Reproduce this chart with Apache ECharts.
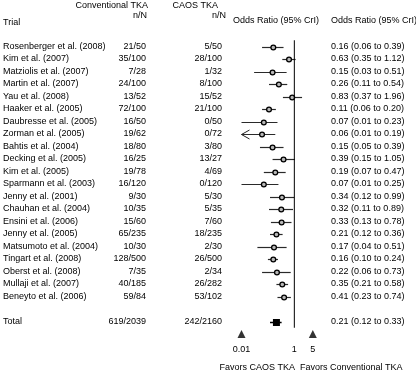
<!DOCTYPE html>
<html>
<head>
<meta charset="utf-8">
<script src="https://cdn.jsdelivr.net/npm/echarts@6/dist/echarts.min.js"></script>
<style>
  html, body { margin: 0; padding: 0; background: #fff; }
  #chart { width: 416px; height: 375px; }
</style>
</head>
<body>
<div id="chart"></div>
<script>
// trial rows, top to bottom
var trials = ['Rosenberger et al. (2008)', 'Kim et al. (2007)', 'Matziolis et al. (2007)', 'Martin et al. (2007)',
    'Yau et al. (2008)', 'Haaker et al. (2005)', 'Daubresse et al. (2005)', 'Zorman et al. (2005)',
    'Bahtis et al. (2004)', 'Decking et al. (2005)', 'Kim et al. (2005)', 'Sparmann et al. (2003)',
    'Jenny et al. (2001)', 'Chauhan et al. (2004)', 'Ensini et al. (2006)', 'Jenny et al. (2005)',
    'Matsumoto et al. (2004)', 'Tingart et al. (2008)', 'Oberst et al. (2008)', 'Mullaji et al. (2007)',
    'Beneyto et al. (2006)'];
var convN = ['21/50', '35/100', '7/28', '24/100', '13/52', '72/100', '16/50', '19/62', '18/80', '16/25', '19/78',
    '16/120', '9/30', '10/35', '15/60', '65/235', '10/30', '128/500', '7/35', '40/185', '59/84'];
var caosN = ['5/50', '28/100', '1/32', '8/100', '15/52', '21/100', '0/50', '0/72', '3/80', '13/27', '4/69',
    '0/120', '5/30', '5/35', '7/60', '18/235', '2/30', '26/500', '2/34', '26/282', '53/102'];
var oddsRatio = [0.16, 0.63, 0.15, 0.26, 0.83, 0.11, 0.07, 0.06, 0.15, 0.39, 0.19, 0.07, 0.34, 0.32, 0.33, 0.21, 0.17, 0.16, 0.22, 0.35, 0.41];
var lower = [0.06, 0.35, 0.03, 0.11, 0.37, 0.06, 0.01, 0.01, 0.05, 0.15, 0.07, 0.01, 0.12, 0.11, 0.13, 0.12, 0.04, 0.10, 0.06, 0.21, 0.23];
var upper = [0.39, 1.12, 0.51, 0.54, 1.96, 0.20, 0.23, 0.19, 0.39, 1.05, 0.47, 0.25, 0.99, 0.89, 0.78, 0.36, 0.51, 0.24, 0.73, 0.58, 0.74];
var arrowRows = [7];   // interval runs off the left edge

var total = { conv: '619/2039', caos: '242/2160', or: 0.21, lo: 0.12, hi: 0.33 };
var tickValues = [0.01, 1, 5];
var markerTicks = [0.01, 5];

var fmt = function (v) { return v.toFixed(2); };
var ciText = function (o, l, h) { return fmt(o) + ' (' + fmt(l) + ' to ' + fmt(h) + ')'; };

// row layout: studies, blank row, total, marker row
var nameCol = trials.concat(['', 'Total', '']);
var convCol = convN.concat(['', total.conv, '']);
var caosCol = caosN.concat(['', total.caos, '']);
var orCol = oddsRatio.map(function (o, i) { return ciText(o, lower[i], upper[i]); })
    .concat(['', ciText(total.or, total.lo, total.hi), '']);
var totalRow = trials.length + 1;
var markerRow = trials.length + 2;
var nRows = nameCol.length;

var studyData = oddsRatio.map(function (o, i) {
    return [o, lower[i], upper[i], i, arrowRows.indexOf(i) >= 0 ? 1 : 0];
});

var FONT = 'Liberation Sans, Arial, sans-serif';
var FS = 9;

var textAxis = function (data, pos, offset, align) {
    return {
        type: 'category', data: data, inverse: true, position: pos, offset: offset,
        axisLine: { show: false }, axisTick: { show: false }, splitLine: { show: false },
        axisLabel: { interval: 0, margin: 0, align: align, color: '#000', fontFamily: FONT, fontSize: FS }
    };
};
var label = function (pos, text) {
    var g = { type: 'text', style: { text: text, font: FS + 'px ' + FONT, fill: '#000' } };
    for (var k in pos) g[k] = pos[k];
    return g;
};

var chart = echarts.init(document.getElementById('chart'), null, { renderer: 'canvas' });
chart.setOption({
    animation: false,
    backgroundColor: '#fff',
    grid: { left: 241.5, right: 103.2, top: 40.25, height: 300, containLabel: false },
    xAxis: {
        type: 'log', logBase: 10, min: 0.01, max: 5,
        axisLine: { show: false }, axisTick: { show: false }, splitLine: { show: false },
        axisLabel: {
            customValues: tickValues, margin: 5, color: '#000', fontFamily: FONT, fontSize: FS,
            formatter: function (v) { return String(+v.toFixed(2)); }
        }
    },
    yAxis: [
        { type: 'value', inverse: true, min: -0.5, max: nRows - 0.5, show: false },
        textAxis(nameCol, 'left', 238.5, 'left'),
        textAxis(convCol, 'left', 95.5, 'right'),
        textAxis(caosCol, 'left', 19.5, 'right'),
        textAxis(orCol, 'right', 18.2, 'left')
    ],
    graphic: [
        label({ left: 3, top: 18 }, 'Trial'),
        label({ right: 268, top: 1 }, 'Conventional TKA'),
        label({ right: 269, top: 11 }, 'n/N'),
        label({ right: 198, top: 1 }, 'CAOS TKA'),
        label({ right: 190, top: 11 }, 'n/N'),
        label({ left: 233, top: 16 }, 'Odds Ratio (95% CrI)'),
        label({ left: 331, top: 16 }, 'Odds Ratio (95% CrI)'),
        label({ right: 121, top: 363 }, 'Favors CAOS TKA'),
        label({ left: 300, top: 363 }, 'Favors Conventional TKA')
    ],
    series: [
        {   // line of no effect
            type: 'line', yAxisIndex: 0, symbol: 'none', silent: true,
            lineStyle: { color: '#000', width: 1 },
            data: [[1, -0.5], [1, totalRow + 0.5]]
        },
        {   // study estimates with 95% CrI
            type: 'custom', yAxisIndex: 0, silent: true,
            encode: { x: [0, 1, 2], y: 3 },
            data: studyData,
            renderItem: function (params, api) {
                var p = api.coord([api.value(0), api.value(3)]);
                var a = api.coord([api.value(1), api.value(3)]);
                var b = api.coord([api.value(2), api.value(3)]);
                var y = Math.round(p[1]) + 0.5;
                var kids = [
                    { type: 'line', shape: { x1: a[0], y1: y, x2: b[0], y2: y }, style: { stroke: '#2a2a2a', lineWidth: 1.2 } },
                    { type: 'circle', shape: { cx: p[0], cy: y, r: 2.4 }, style: { fill: '#b8b8b8', stroke: '#000', lineWidth: 1.3 } }
                ];
                if (api.value(4)) {
                    kids.push({ type: 'polyline', shape: { points: [[a[0] + 8, y - 4.5], [a[0], y], [a[0] + 8, y + 4.5]] },
                        style: { stroke: '#222', lineWidth: 1, fill: null } });
                }
                return { type: 'group', children: kids };
            }
        },
        {   // pooled estimate
            type: 'custom', yAxisIndex: 0, silent: true,
            encode: { x: [0, 1, 2], y: 3 },
            data: [[total.or, total.lo, total.hi, totalRow]],
            renderItem: function (params, api) {
                var p = api.coord([api.value(0), api.value(3)]);
                var a = api.coord([api.value(1), api.value(3)]);
                var b = api.coord([api.value(2), api.value(3)]);
                var y = Math.round(p[1]) + 0.5;
                return { type: 'group', children: [
                    { type: 'line', shape: { x1: a[0], y1: y, x2: b[0], y2: y }, style: { stroke: '#000', lineWidth: 1.5 } },
                    { type: 'rect', shape: { x: p[0] - 3.5, y: y - 3.5, width: 7, height: 7 }, style: { fill: '#000' } }
                ] };
            }
        },
        {   // axis range markers
            type: 'scatter', yAxisIndex: 0, symbol: 'triangle', symbolSize: [8, 8], silent: true,
            itemStyle: { color: '#000' },
            data: markerTicks.map(function (v) { return [v, markerRow]; })
        }
    ]
});
</script>
</body>
</html>
